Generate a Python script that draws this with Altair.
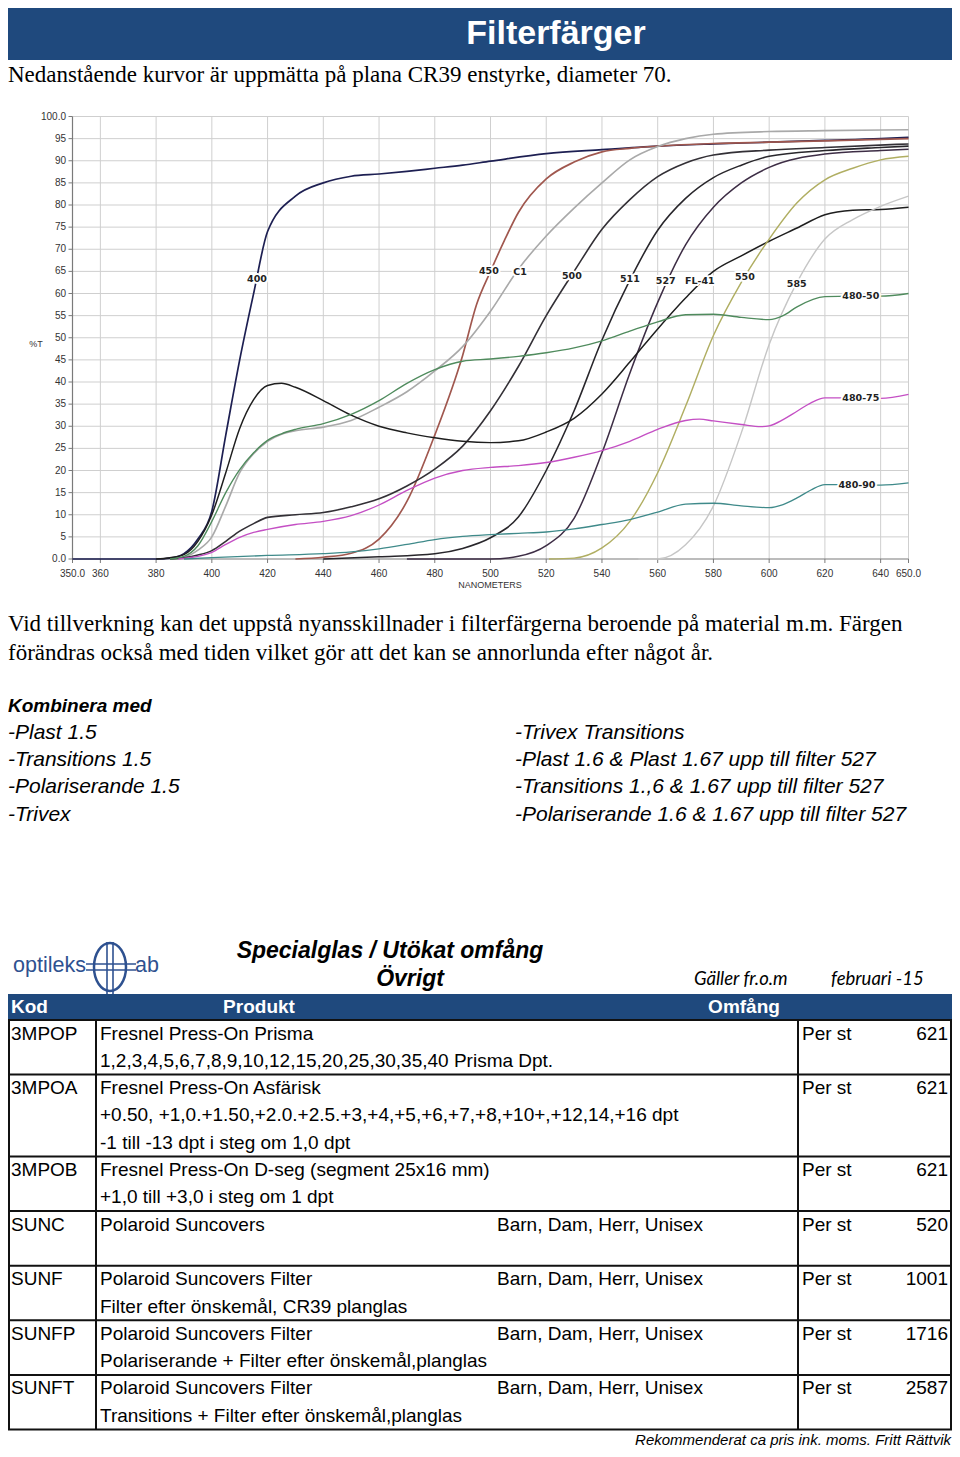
import altair as alt
import pandas as pd

# ================= spectral transmission curves (nm, %T) =================
nm_400 = [350, 380, 385, 390, 395, 400, 405, 410, 415, 420, 430, 440, 450, 460, 470, 480, 490, 500, 520, 540, 560, 580, 600, 620, 640, 650]
t_400 = [0, 0, 0.2, 1.2, 4.5, 10.8, 28, 45, 60, 74, 82, 85, 86.5, 87, 87.6, 88.3, 89, 89.9, 91.6, 92.5, 93.3, 93.8, 94.2, 94.6, 95, 95.3]

nm_450 = [430, 440, 450, 460, 470, 480, 490, 495, 500, 505, 510, 520, 530, 540, 550, 560, 580, 600, 620, 650]
t_450 = [0, 0.4, 1.3, 4.5, 13, 28, 46, 57.5, 65, 72, 78.3, 85.9, 89.7, 92, 92.8, 93.3, 93.9, 94.2, 94.5, 95]

nm_c1 = [385, 390, 395, 400, 405, 410, 415, 420, 425, 430, 440, 450, 460, 470, 480, 490, 500, 510, 520, 530, 540, 550, 560, 570, 580, 600, 620, 650]
t_c1 = [0, 0.4, 2, 5, 12, 19.5, 23.8, 26.6, 28.2, 29, 29.8, 31.3, 34.3, 37.8, 42.5, 48, 56, 65.5, 73, 79.3, 85, 90.2, 93.2, 95, 96, 96.6, 96.8, 97]

nm_500 = [385, 390, 395, 400, 405, 410, 415, 420, 430, 440, 450, 460, 470, 480, 490, 500, 510, 520, 530, 540, 550, 560, 570, 580, 600, 620, 650]
t_500 = [0, 0.3, 0.9, 1.9, 4, 6.3, 8, 9.4, 10, 10.5, 11.8, 13.6, 16.5, 20.3, 25.5, 33.5, 43.5, 55, 65, 74.5, 81.2, 86.4, 89.5, 91.3, 92.4, 93, 93.8]

nm_511 = [440, 460, 480, 490, 500, 510, 520, 530, 540, 550, 560, 570, 580, 590, 600, 620, 640, 650]
t_511 = [0, 0.5, 1.2, 2.4, 4.8, 9.5, 20, 33.5, 49.5, 63, 74.3, 81.5, 86.2, 89, 91, 92.3, 93, 93.3]

nm_527 = [470, 500, 510, 520, 530, 540, 550, 560, 570, 580, 590, 600, 620, 640, 650]
t_527 = [0, 0, 0.6, 3, 9.2, 24, 42, 58, 71, 79.5, 85, 88.5, 91.5, 92.3, 92.6]

nm_fl41 = [380, 385, 390, 395, 400, 405, 410, 415, 420, 425, 430, 440, 450, 460, 470, 480, 490, 500, 510, 520, 530, 540, 550, 560, 570, 580, 590, 600, 610, 620, 630, 640, 650]
t_fl41 = [0, 0.3, 1, 4, 10, 19.5, 29.5, 36, 39.2, 39.7, 38.8, 35.8, 32.5, 30, 28.5, 27.4, 26.6, 26.3, 26.7, 28.7, 31.8, 37.3, 44.5, 52, 59, 65, 68.5, 71.8, 74.8, 77.8, 78.8, 79, 79.5]

nm_550 = [521, 530, 540, 550, 560, 570, 580, 590, 600, 610, 620, 630, 640, 650]
t_550 = [0, 0.2, 2.5, 8.5, 19.5, 34.5, 50.5, 62.5, 72.3, 80.5, 85.7, 88.3, 90.2, 91]

nm_585 = [553, 560, 570, 580, 590, 600, 610, 620, 630, 640, 650]
t_585 = [0, 0, 3.2, 12, 28.5, 48.5, 62.5, 72.3, 76.7, 79.7, 82]

nm_48050 = [385, 390, 395, 400, 405, 410, 415, 420, 425, 430, 440, 450, 460, 470, 480, 490, 500, 510, 520, 530, 540, 550, 560, 570, 580, 590, 600, 605, 610, 620, 630, 640, 650]
t_48050 = [0, 0.6, 3, 8.5, 15, 20.2, 24, 26.8, 28.3, 29.3, 30.6, 32.7, 35.8, 39.7, 42.8, 44.7, 45.2, 45.8, 46.6, 47.7, 49.3, 51.5, 53.6, 55.2, 55.3, 54.6, 54.1, 55, 57, 59.3, 59.4, 59.4, 60]

nm_48075 = [388, 392, 395, 400, 405, 410, 415, 420, 430, 440, 450, 460, 470, 480, 490, 500, 510, 520, 530, 540, 550, 560, 570, 575, 580, 590, 597, 600, 605, 610, 615, 620, 630, 640, 650]
t_48075 = [0, 0.3, 0.6, 1.5, 3.3, 4.9, 6, 6.7, 7.8, 8.5, 9.8, 12.2, 15.5, 18.3, 20, 20.7, 21.1, 21.8, 23, 24.5, 26.6, 29.3, 31.3, 31.6, 31.2, 30.4, 29.9, 30.1, 31.5, 33.4, 35.3, 36.4, 36.4, 36.3, 37.2]

nm_48090 = [390, 400, 420, 440, 450, 460, 470, 480, 490, 500, 510, 520, 530, 540, 550, 560, 570, 580, 590, 600, 605, 610, 615, 620, 630, 640, 650]
t_48090 = [0, 0.3, 0.8, 1.2, 1.6, 2.3, 3.3, 4.4, 5.1, 5.5, 5.8, 6.1, 6.8, 7.8, 8.9, 10.6, 12.4, 12.6, 12, 11.6, 12.3, 13.8, 15.6, 16.8, 16.8, 16.7, 17.2]

curve_names = ["400", "450", "C1", "500", "511", "527", "FL-41", "550", "585", "480-50", "480-75", "480-90"]
curve_nm = [nm_400, nm_450, nm_c1, nm_500, nm_511, nm_527, nm_fl41, nm_550, nm_585, nm_48050, nm_48075, nm_48090]
curve_t = [t_400, t_450, t_c1, t_500, t_511, t_527, t_fl41, t_550, t_585, t_48050, t_48075, t_48090]
curve_colors = ["#1d1f52", "#a0574e", "#a9a9a9", "#333036", "#28262b", "#3d2d45", "#1e1e1e",
                "#b0ae62", "#c6c6c6", "#4f8b5d", "#c44fc4", "#3f8a8a"]
curve_widths = [1.7, 1.3, 1.2, 1.3, 1.3, 1.3, 1.3, 1.2, 1.2, 1.3, 1.3, 1.3]

# curve labels (anchored in data units)
label_nm = [416.2, 499.4, 510.6, 529.2, 550.0, 562.9, 575.1, 591.3, 609.9, 632.9, 632.9, 631.5]
label_t = [63.3, 65.1, 64.9, 64.0, 63.3, 62.8, 62.8, 63.7, 62.1, 59.4, 36.4, 16.7]

x_grid_vals = [360, 380, 400, 420, 440, 460, 480, 500, 520, 540, 560, 580, 600, 620, 640, 650]
x_tick_vals = [350, 360, 380, 400, 420, 440, 460, 480, 500, 520, 540, 560, 580, 600, 620, 640, 650]
x_tick_text = ["350.0", "360", "380", "400", "420", "440", "460", "480", "500", "520", "540", "560", "580", "600", "620", "640", "650.0"]
y_tick_vals = [0, 5, 10, 15, 20, 25, 30, 35, 40, 45, 50, 55, 60, 65, 70, 75, 80, 85, 90, 95, 100]
y_tick_text = ["0.0", "5", "10", "15", "20", "25", "30", "35", "40", "45", "50", "55", "60", "65", "70", "75", "80", "85", "90", "95", "100.0"]

# ================= page texts =================
title_text = "Filterfärger"
intro_text = "Nedanstående kurvor är uppmätta på plana CR39 enstyrke, diameter 70."
note_lines = ["Vid tillverkning kan det uppstå nyansskillnader i filterfärgerna beroende på material m.m. Färgen",
              "förändras också med tiden vilket gör att det kan se annorlunda efter något år."]
combine_title = "Kombinera med"
combine_left = ["-Plast 1.5", "-Transitions 1.5", "-Polariserande 1.5", "-Trivex"]
combine_right = ["-Trivex Transitions", "-Plast 1.6 & Plast 1.67 upp till filter 527",
                 "-Transitions 1.,6 & 1.67 upp till filter 527", "-Polariserande 1.6 & 1.67 upp till filter 527"]
y_axis_title = "%T"
x_axis_title = "NANOMETERS"

logo_left = "optileks"
logo_right = "ab"
sheet_title = ["Specialglas / Utökat omfång", "Övrigt"]
valid_label = "Gäller fr.o.m"
valid_date = "februari -15"
header_cols = ["Kod", "Produkt", "Omfång"]

codes = ["3MPOP", "3MPOA", "3MPOB", "SUNC", "SUNF", "SUNFP", "SUNFT"]
products = ["Fresnel Press-On Prisma", "Fresnel Press-On Asfärisk", "Fresnel Press-On D-seg (segment 25x16 mm)",
            "Polaroid Suncovers", "Polaroid Suncovers Filter", "Polaroid Suncovers Filter", "Polaroid Suncovers Filter"]
details = [["1,2,3,4,5,6,7,8,9,10,12,15,20,25,30,35,40 Prisma Dpt."],
           ["+0.50, +1,0.+1.50,+2.0.+2.5.+3,+4,+5,+6,+7,+8,+10+,+12,14,+16 dpt", "-1 till -13 dpt i steg om 1,0 dpt"],
           ["+1,0 till +3,0 i steg om 1 dpt"],
           [],
           ["Filter efter önskemål, CR39 planglas"],
           ["Polariserande + Filter efter önskemål,planglas"],
           ["Transitions + Filter efter önskemål,planglas"]]
variants = ["", "", "", "Barn, Dam, Herr, Unisex", "Barn, Dam, Herr, Unisex", "Barn, Dam, Herr, Unisex", "Barn, Dam, Herr, Unisex"]
units = ["Per st", "Per st", "Per st", "Per st", "Per st", "Per st", "Per st"]
prices = ["621", "621", "621", "520", "1001", "1716", "2587"]
footer = "Rekommenderat ca pris ink. moms. Fritt Rättvik"

# ================= helpers =================
W, H = 944, 1440
BLUE = "#1f497d"
LOGO = "#2e5190"
SANS = "Liberation Sans"
SERIF = "Liberation Serif"
one = pd.DataFrame({"k": [0]})


def px_text(items, **mk):
    df = pd.DataFrame(items, columns=["t", "x", "y"])
    return alt.Chart(df).mark_text(**mk).encode(
        x=alt.X("x:Q", scale=None, axis=None),
        y=alt.Y("y:Q", scale=None, axis=None),
        text=alt.Text("t:N"),
    )


def px_rect(x, x2, y, y2, color):
    return alt.Chart(one).mark_rect(color=color).encode(
        x=alt.value(x), x2=alt.value(x2), y=alt.value(y), y2=alt.value(y2))


def px_rules(items, color, width):
    df = pd.DataFrame(items, columns=["x", "x2", "y", "y2"])
    return alt.Chart(df).mark_rule(color=color, strokeWidth=width).encode(
        x=alt.X("x:Q", scale=None, axis=None), x2="x2:Q",
        y=alt.Y("y:Q", scale=None, axis=None), y2="y2:Q")


# ================= spectrum chart =================
xs = alt.Scale(domain=[350, 650], range=[64.5, 900.5], nice=False, zero=False)
ys = alt.Scale(domain=[0, 100], range=[551, 108.5], nice=False, zero=False)

rows = []
for name, nms, ts in zip(curve_names, curve_nm, curve_t):
    for a, b in zip(nms, ts):
        rows.append({"name": name, "nm": a, "T": b})
curves_df = pd.DataFrame(rows)

gx = pd.DataFrame({"nm": x_grid_vals, "lo": 0, "hi": 100})
gy = pd.DataFrame({"T": y_tick_vals[1:], "lo": 350, "hi": 650})

grid_v = alt.Chart(gx).mark_rule(color="#cfcfcf", strokeWidth=1).encode(
    x=alt.X("nm:Q", scale=xs, axis=None), y=alt.Y("lo:Q", scale=ys, axis=None), y2="hi:Q")
grid_h = alt.Chart(gy).mark_rule(color="#cfcfcf", strokeWidth=1).encode(
    y=alt.Y("T:Q", scale=ys, axis=None), x=alt.X("lo:Q", scale=xs, axis=None), x2="hi:Q")
axis_left = alt.Chart(pd.DataFrame({"nm": [350], "lo": [0], "hi": [100]})).mark_rule(color="#7a7a7a", strokeWidth=1.2).encode(
    x=alt.X("nm:Q", scale=xs, axis=None), y=alt.Y("lo:Q", scale=ys, axis=None), y2="hi:Q")
axis_bottom = alt.Chart(pd.DataFrame({"T": [0], "lo": [350], "hi": [650]})).mark_rule(color="#7a7a7a", strokeWidth=1.2).encode(
    y=alt.Y("T:Q", scale=ys, axis=None), x=alt.X("lo:Q", scale=xs, axis=None), x2="hi:Q")

xt_df = pd.DataFrame({"nm": x_tick_vals, "lab": x_tick_text})
yt_df = pd.DataFrame({"T": y_tick_vals, "lab": y_tick_text})
x_ticks = alt.Chart(xt_df).mark_rule(color="#7a7a7a").encode(
    x=alt.X("nm:Q", scale=xs, axis=None), y=alt.value(551), y2=alt.value(555))
y_ticks = alt.Chart(yt_df).mark_rule(color="#7a7a7a").encode(
    y=alt.Y("T:Q", scale=ys, axis=None), x=alt.value(60.5), x2=alt.value(64.5))
x_labels = alt.Chart(xt_df).mark_text(font=SANS, fontSize=10, color="#333333").encode(
    x=alt.X("nm:Q", scale=xs, axis=None), y=alt.value(566), text="lab:N")
y_labels = alt.Chart(yt_df).mark_text(font=SANS, fontSize=10, color="#333333", align="right").encode(
    y=alt.Y("T:Q", scale=ys, axis=None), x=alt.value(58), text="lab:N")

lines = alt.Chart(curves_df).mark_line(interpolate="monotone").encode(
    x=alt.X("nm:Q", scale=xs, axis=None),
    y=alt.Y("T:Q", scale=ys, axis=None),
    color=alt.Color("name:N", scale=alt.Scale(domain=curve_names, range=curve_colors), legend=None),
    strokeWidth=alt.StrokeWidth("name:N", scale=alt.Scale(domain=curve_names, range=curve_widths), legend=None),
    order=alt.Order("nm:Q"),
)

lab_df = pd.DataFrame({"name": curve_names, "nm": label_nm, "T": label_t})
lab_halo = alt.Chart(lab_df).mark_text(font="DejaVu Sans", fontSize=9.5, fontWeight="bold",
                                       color="white", stroke="white", strokeWidth=4, strokeJoin="round").encode(
    x=alt.X("nm:Q", scale=xs, axis=None), y=alt.Y("T:Q", scale=ys, axis=None), text="name:N")
lab_text = alt.Chart(lab_df).mark_text(font="DejaVu Sans", fontSize=9.5, fontWeight="bold", color="#222222").encode(
    x=alt.X("nm:Q", scale=xs, axis=None), y=alt.Y("T:Q", scale=ys, axis=None), text="name:N")

spectrum = alt.layer(grid_v, grid_h, axis_left, axis_bottom, x_ticks, y_ticks, x_labels, y_labels,
                     lines, lab_halo, lab_text)

axis_titles = alt.layer(
    px_text([(y_axis_title, 28, 336)], font=SANS, fontSize=9, color="#333333"),
    px_text([(x_axis_title, 482, 577)], font=SANS, fontSize=9, color="#333333"),
)

# ================= top of page =================
banner = px_rect(0, W, 0, 52, BLUE)
title = px_text([(title_text, 548, 26)], font=SANS, fontSize=34, fontWeight="bold", color="white")
intro = px_text([(intro_text, 0, 67)], font=SERIF, fontSize=23, align="left", color="black")

notes = px_text([(note_lines[0], 0, 616), (note_lines[1], 0, 645)], font=SERIF, fontSize=23, align="left", color="black")
comb_t = px_text([(combine_title, 0, 698)], font=SANS, fontSize=19, fontWeight="bold", fontStyle="italic",
                 align="left", color="black")
list_y = [725, 752, 779, 807]
comb_l = px_text([(s, 0, y) for s, y in zip(combine_left, list_y)], font=SANS, fontSize=21, fontStyle="italic",
                 align="left", color="black")
comb_r = px_text([(s, 507, y) for s, y in zip(combine_right, list_y)], font=SANS, fontSize=21, fontStyle="italic",
                 align="left", color="black")

# ================= logo + sheet heading =================
ellipse_path = "M -0.667 0 A 0.667 1 0 1 0 0.667 0 A 0.667 1 0 1 0 -0.667 0 Z"
logo_ring = alt.Chart(one).mark_point(shape=ellipse_path, size=2304, filled=False, color=LOGO,
                                     strokeWidth=2.5, opacity=1).encode(x=alt.value(102), y=alt.value(959))
logo_cross = px_rules([(99, 99, 934, 986), (105, 105, 934, 986), (78, 128, 956, 956), (78, 128, 962, 962)], LOGO, 1.6)
logo_txt = alt.layer(
    px_text([(logo_left, 5, 958)], font=SANS, fontSize=21.5, align="left", color=LOGO),
    px_text([(logo_right, 127, 958)], font=SANS, fontSize=21.5, align="left", color=LOGO),
)
heading = px_text([(sheet_title[0], 382, 943), (sheet_title[1], 402, 971)], font=SANS, fontSize=23,
                  fontWeight="bold", fontStyle="italic", color="black")
valid = px_text([(valid_label, 686, 971), (valid_date, 823, 971)], font="Lato", fontSize=18.5,
                fontStyle="italic", align="left", color="black")

# ================= table =================
LINE_H = 27.3
TOP = 1012.0
row_tops = []
yy = TOP
for i in range(len(codes)):
    row_tops.append(yy)
    yy += max(2, 1 + len(details[i])) * LINE_H
BOTTOM = yy

head_bar = px_rect(0, W, 986, 1011, BLUE)
head_txt = alt.layer(
    px_text([(header_cols[0], 3, 998.5)], font=SANS, fontSize=19, fontWeight="bold", color="white", align="left"),
    px_text([(header_cols[1], 251, 998.5), (header_cols[2], 736, 998.5)], font=SANS, fontSize=19,
            fontWeight="bold", color="white"),
)

h_lines = [(0, W, y, y) for y in row_tops + [BOTTOM]]
v_lines = [(x, x, TOP, BOTTOM) for x in [1, 88, 790, 943]]
table_rules = px_rules(h_lines + v_lines, "#111111", 2)

left_items, price_items = [], []
for i, rt in enumerate(row_tops):
    y0 = rt + 13.5
    left_items.append((codes[i], 3, y0))
    left_items.append((products[i], 92, y0))
    for k, d in enumerate(details[i]):
        left_items.append((d, 92, y0 + LINE_H * (k + 1)))
    if variants[i]:
        left_items.append((variants[i], 489, y0))
    left_items.append((units[i], 794, y0))
    price_items.append((prices[i], 940, y0))

table_txt = alt.layer(
    px_text(left_items, font=SANS, fontSize=19, align="left", color="black"),
    px_text(price_items, font=SANS, fontSize=19, align="right", color="black"),
)
foot = px_text([(footer, 943, 1432)], font=SANS, fontSize=15, fontStyle="italic", align="right", color="black")

chart = alt.layer(
    banner, title, intro,
    spectrum, axis_titles,
    notes, comb_t, comb_l, comb_r,
    logo_ring, logo_cross, logo_txt, heading, valid,
    head_bar, table_rules, head_txt, table_txt, foot,
).resolve_scale(
    x="independent", y="independent", color="independent", strokeWidth="independent"
).properties(
    width=W, height=H, padding=0, autosize=alt.AutoSizeParams(type="none"), background="white"
).configure_view(stroke=None)

chart.save("out.html", embed_options={"renderer": "svg", "actions": False})
